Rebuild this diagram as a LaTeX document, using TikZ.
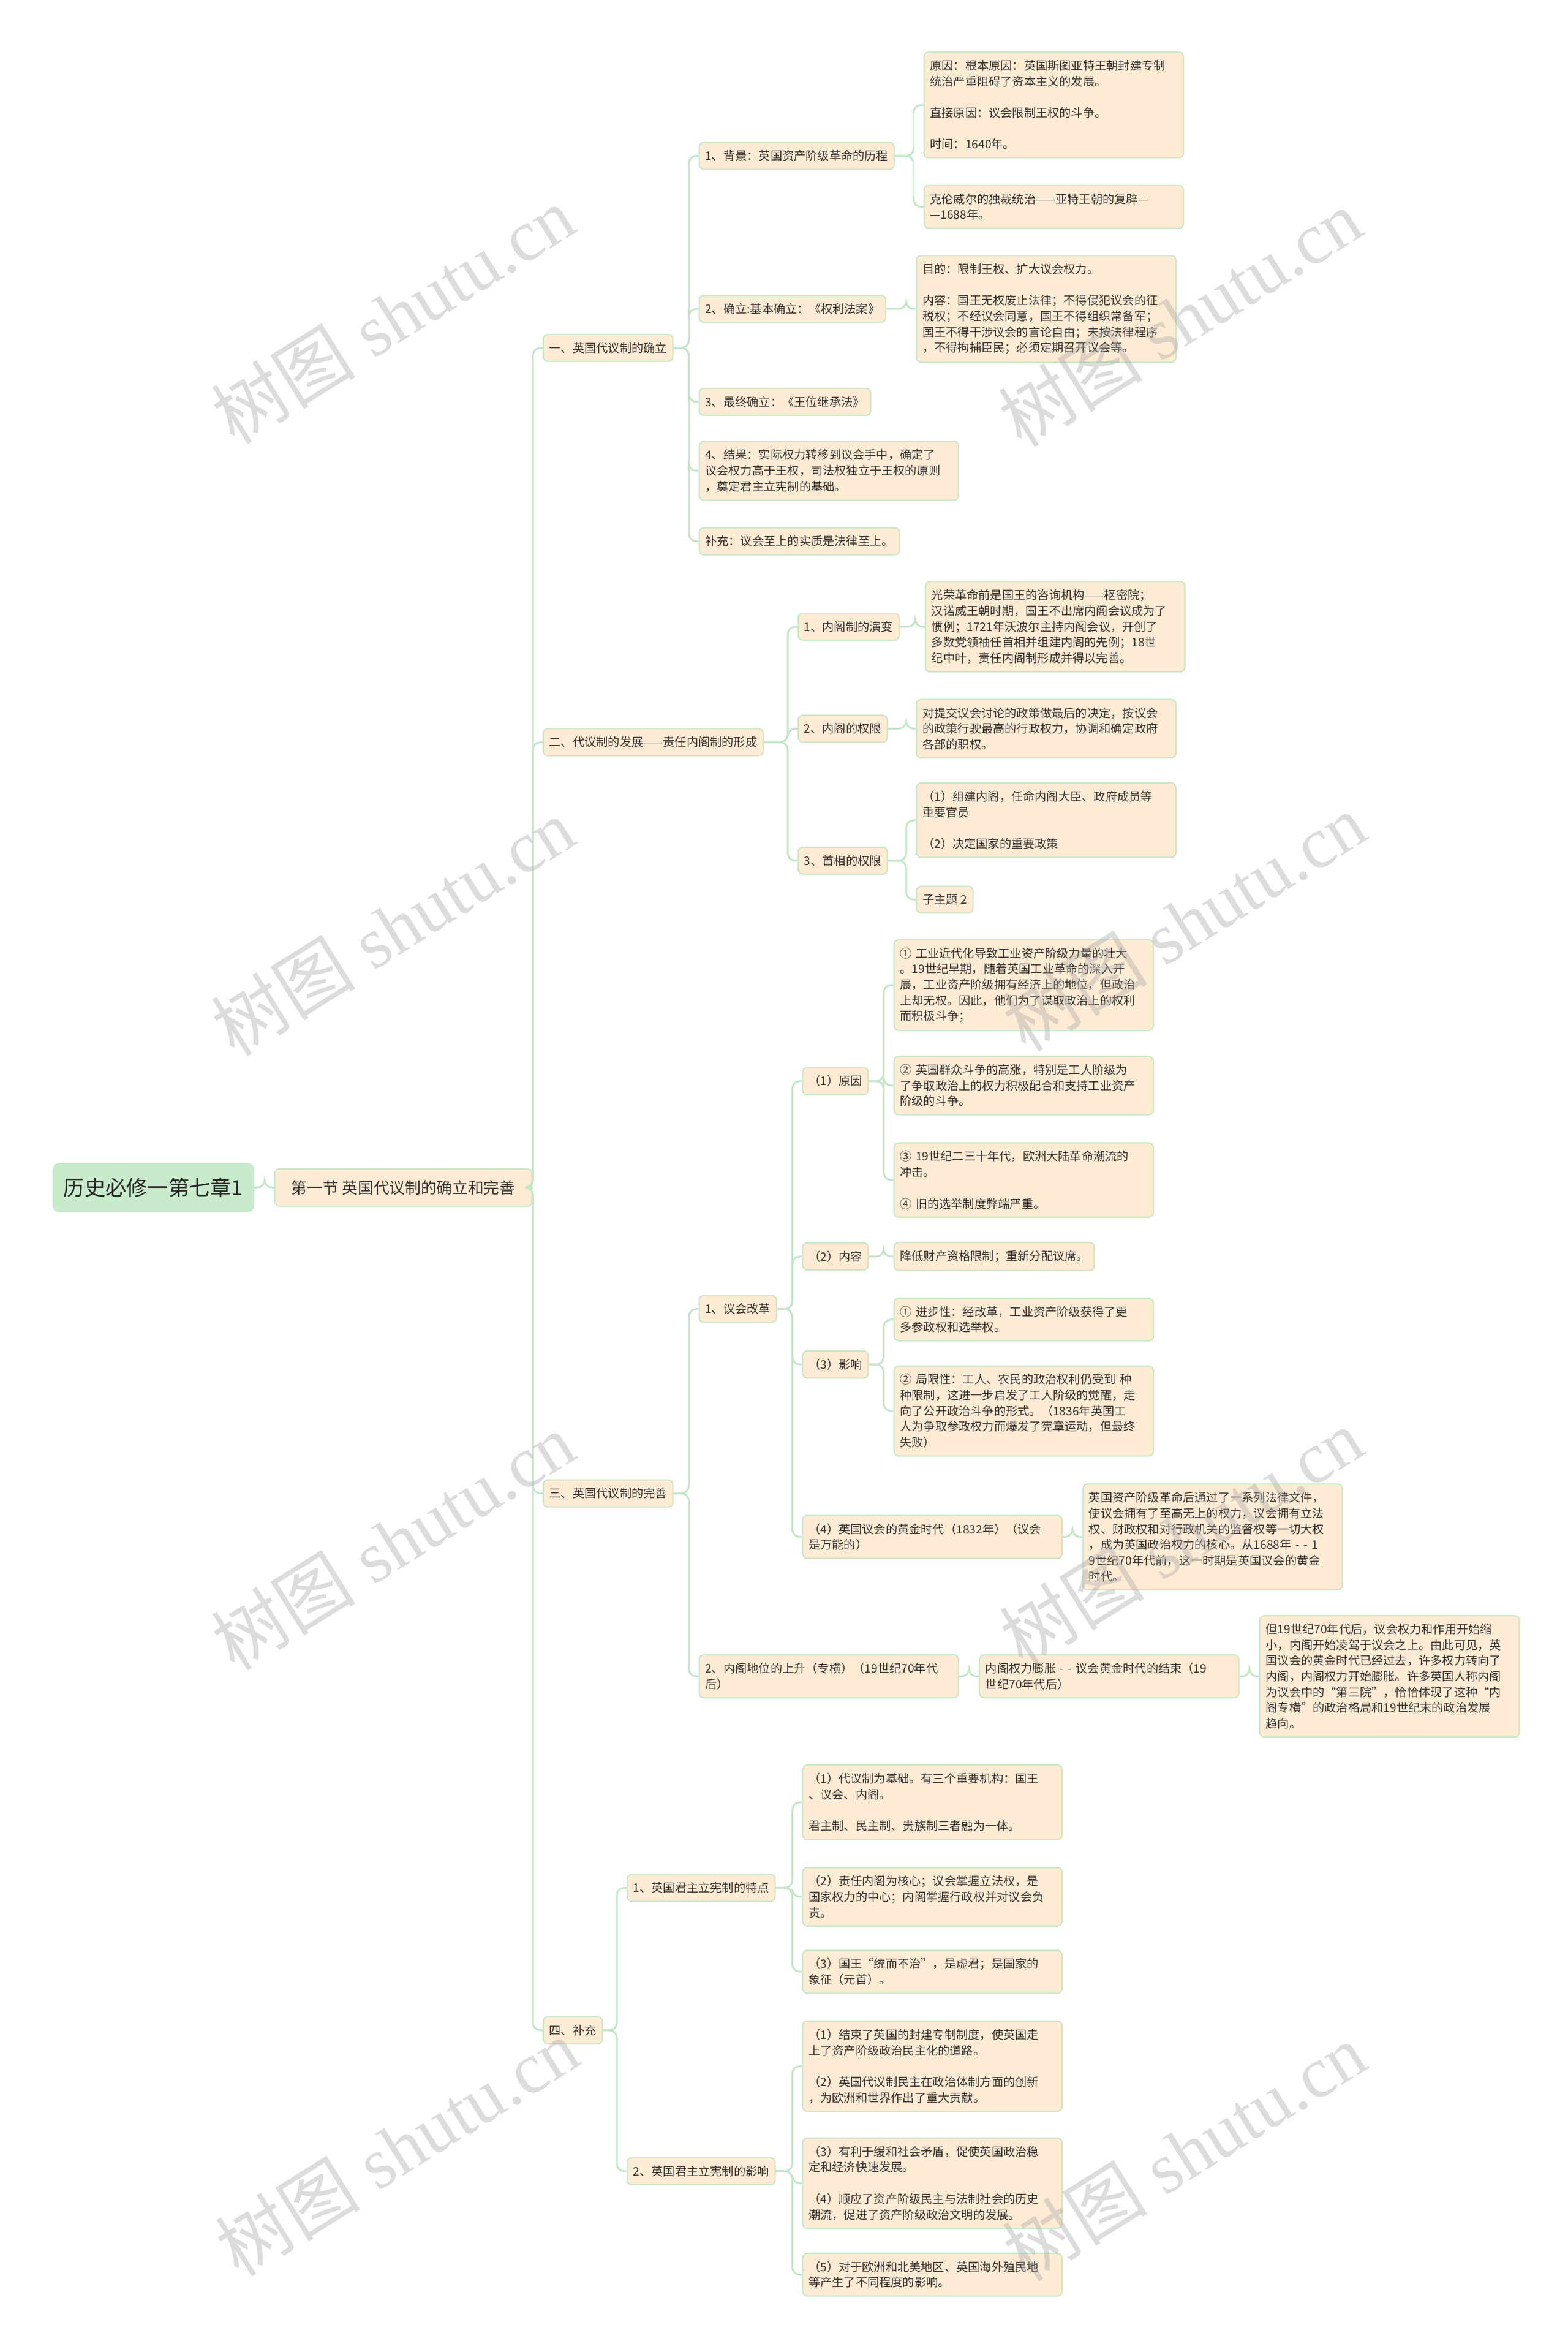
\documentclass[tikz,border=0pt]{standalone}
\usepackage{fontspec}
\setmainfont{Noto Sans CJK SC}
\newfontfamily\cjk{Noto Sans CJK SC}
\newfontfamily\wmfont{Liberation Serif}
\usetikzlibrary{calc}
\definecolor{peach}{HTML}{FDEBD3}
\definecolor{bord}{HTML}{C9E8C6}
\definecolor{linec}{HTML}{C5E7C9}
\definecolor{rootg}{HTML}{C8EBCB}
\definecolor{txt}{HTML}{333333}
\definecolor{wmc}{HTML}{A8A8A8}
\tikzset{
  box/.style={draw=bord, line width=0.5pt, fill=peach, rounded corners=1.8pt,
    inner xsep=2.4pt, inner ysep=3.2pt, anchor=west, text=txt,
    font=\fontsize{4.71pt}{6.3pt}\selectfont, align=left},
  wbox/.style={box, text width=99pt},
  rootbox/.style={draw=rootg, line width=0.5pt, fill=rootg, rounded corners=2.4pt,
    inner xsep=4.2pt, minimum height=19.2pt, anchor=west, text=black!85,
    font=\fontsize{8.4pt}{10pt}\selectfont},
  lonebox/.style={box, inner xsep=6.6pt, minimum height=15pt,
    font=\fontsize{6.3pt}{8pt}\selectfont},
  conn/.style={draw=linec, line width=0.75pt, rounded corners=3pt},
  wm/.style={rotate=32, text=wmc, opacity=0.4, font=\fontsize{29pt}{29pt}\wmfont}
}
\newcommand\mylink[2]{\draw[conn] (#1.east) -| ([xshift=-3.9pt]#2.west) -- (#2.west);}
\begin{document}
\begin{tikzpicture}[x=0.6pt,y=-0.6pt]
\fill[white] (0,0) rectangle (1046,1568.6);
\useasboundingbox (0,0) rectangle (1046,1568.6);

% root and level 1
\node[rootbox] (root) at (35,792) {历史必修一第七章1};
\node[lonebox] (l1) at (183,792) {第一节 英国代议制的确立和完善};

% level 2
\node[box] (s1) at (362,232) {一、英国代议制的确立};
\node[box] (s2) at (362,495) {二、代议制的发展——责任内阁制的形成};
\node[box] (s3) at (362,996) {三、英国代议制的完善};
\node[box] (s4) at (362,1354) {四、补充};

% section 1
\node[box] (a1) at (466,104) {1、背景：英国资产阶级革命的历程};
\node[box] (a2) at (466,206) {2、确立:基本确立：《权利法案》};
\node[box] (a3) at (466,268) {3、最终确立：《王位继承法》};
\node[wbox] (a4) at (466,314) {4、结果：实际权力转移到议会手中，确定了\\议会权力高于王权，司法权独立于王权的原则\\，奠定君主立宪制的基础。};
\node[box] (a5) at (466,361) {补充：议会至上的实质是法律至上。};
\node[wbox] (a11) at (616,70) {原因：根本原因：英国斯图亚特王朝封建专制\\统治严重阻碍了资本主义的发展。\\\mbox{}\\直接原因：议会限制王权的斗争。\\\mbox{}\\时间：1640年。};
\node[wbox] (a12) at (616,138) {克伦威尔的独裁统治——亚特王朝的复辟—\\—1688年。};
\node[wbox] (a21) at (611,206) {目的：限制王权、扩大议会权力。\\\mbox{}\\内容：国王无权废止法律；不得侵犯议会的征\\税权；不经议会同意，国王不得组织常备军；\\国王不得干涉议会的言论自由；未按法律程序\\，不得拘捕臣民；必须定期召开议会等。};

% section 2
\node[box] (b1) at (532,418) {1、内阁制的演变};
\node[box] (b2) at (532,486) {2、内阁的权限};
\node[box] (b3) at (532,574) {3、首相的权限};
\node[wbox] (b11) at (617,418) {光荣革命前是国王的咨询机构——枢密院；\\汉诺威王朝时期，国王不出席内阁会议成为了\\惯例；1721年沃波尔主持内阁会议，开创了\\多数党领袖任首相并组建内阁的先例；18世\\纪中叶，责任内阁制形成并得以完善。};
\node[wbox] (b21) at (611,486) {对提交议会讨论的政策做最后的决定，按议会\\的政策行驶最高的行政权力，协调和确定政府\\各部的职权。};
\node[wbox] (b31) at (611,547) {（1）组建内阁，任命内阁大臣、政府成员等\\重要官员\\\mbox{}\\（2）决定国家的重要政策};
\node[box] (b32) at (611,600) {子主题 2};

% section 3
\node[box] (c1) at (466,873) {1、议会改革};
\node[wbox] (c2) at (466,1118) {2、内阁地位的上升（专横）（19世纪70年代\\后）};
\node[box] (c11) at (535,721) {（1）原因};
\node[box] (c12) at (535,838) {（2）内容};
\node[box] (c13) at (535,910) {（3）影响};
\node[wbox] (c14) at (535,1025) {（4）英国议会的黄金时代（1832年）（议会\\是万能的）};
\node[wbox] (c111) at (596,657) {① 工业近代化导致工业资产阶级力量的壮大\\。19世纪早期，随着英国工业革命的深入开\\展，工业资产阶级拥有经济上的地位，但政治\\上却无权。因此，他们为了谋取政治上的权利\\而积极斗争；};
\node[wbox] (c112) at (596,724) {② 英国群众斗争的高涨，特别是工人阶级为\\了争取政治上的权力积极配合和支持工业资产\\阶级的斗争。};
\node[wbox] (c113) at (596,787) {③ 19世纪二三十年代，欧洲大陆革命潮流的\\冲击。\\\mbox{}\\④ 旧的选举制度弊端严重。};
\node[box] (c121) at (596,838) {降低财产资格限制；重新分配议席。};
\node[wbox] (c131) at (596,880) {① 进步性：经改革，工业资产阶级获得了更\\多参政权和选举权。};
\node[wbox] (c132) at (596,941) {② 局限性：工人、农民的政治权利仍受到 种\\种限制，这进一步启发了工人阶级的觉醒，走\\向了公开政治斗争的形式。（1836年英国工\\人为争取参政权力而爆发了宪章运动，但最终\\失败）};
\node[wbox] (c141) at (722,1025) {英国资产阶级革命后通过了一系列法律文件，\\使议会拥有了至高无上的权力，议会拥有立法\\权、财政权和对行政机关的监督权等一切大权\\，成为英国政治权力的核心。从1688年 - - 1\\9世纪70年代前，这一时期是英国议会的黄金\\时代。};
\node[wbox] (c21) at (653,1118) {内阁权力膨胀 - - 议会黄金时代的结束（19\\世纪70年代后）};
\node[wbox] (c211) at (840,1118) {但19世纪70年代后，议会权力和作用开始缩\\小，内阁开始凌驾于议会之上。由此可见，英\\国议会的黄金时代已经过去，许多权力转向了\\内阁，内阁权力开始膨胀。许多英国人称内阁\\为议会中的“第三院”，恰恰体现了这种“内\\阁专横”的政治格局和19世纪末的政治发展\\趋向。};

% section 4
\node[box] (d1) at (418,1259) {1、英国君主立宪制的特点};
\node[box] (d2) at (418,1448) {2、英国君主立宪制的影响};
\node[wbox] (d11) at (535,1202) {（1）代议制为基础。有三个重要机构：国王\\、议会、内阁。\\\mbox{}\\君主制、民主制、贵族制三者融为一体。};
\node[wbox] (d12) at (535,1265) {（2）责任内阁为核心；议会掌握立法权，是\\国家权力的中心；内阁掌握行政权并对议会负\\责。};
\node[wbox] (d13) at (535,1315) {（3）国王“统而不治”，是虚君；是国家的\\象征（元首）。};
\node[wbox] (d21) at (535,1378) {（1）结束了英国的封建专制制度，使英国走\\上了资产阶级政治民主化的道路。\\\mbox{}\\（2）英国代议制民主在政治体制方面的创新\\，为欧洲和世界作出了重大贡献。};
\node[wbox] (d22) at (535,1456) {（3）有利于缓和社会矛盾，促使英国政治稳\\定和经济快速发展。\\\mbox{}\\（4）顺应了资产阶级民主与法制社会的历史\\潮流，促进了资产阶级政治文明的发展。};
\node[wbox] (d23) at (535,1517) {（5）对于欧洲和北美地区、英国海外殖民地\\等产生了不同程度的影响。};

% connectors
\foreach \p/\c in {root/l1, l1/s1, l1/s2, l1/s3, l1/s4,
  s1/a1, s1/a2, s1/a3, s1/a4, s1/a5, a1/a11, a1/a12, a2/a21,
  s2/b1, s2/b2, s2/b3, b1/b11, b2/b21, b3/b31, b3/b32,
  s3/c1, s3/c2, c1/c11, c1/c12, c1/c13, c1/c14,
  c11/c111, c11/c112, c11/c113, c12/c121, c13/c131, c13/c132, c14/c141,
  c2/c21, c21/c211,
  s4/d1, s4/d2, d1/d11, d1/d12, d1/d13, d2/d21, d2/d22, d2/d23}
  {\mylink{\p}{\c}}

% watermarks
\foreach \x/\y [count=\i] in {262/210, 787/212, 262/618, 790/615, 262/1028, 788/1025, 265/1432, 790/1435}
  \node[wm] (wm\i) at (\x,\y) {{\cjk 树图} shutu.cn};
\end{tikzpicture}
\end{document}
